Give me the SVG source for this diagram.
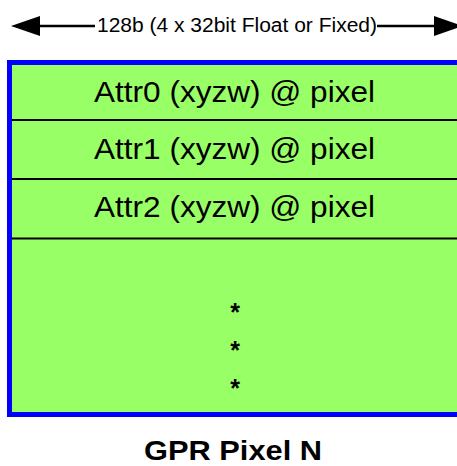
<svg xmlns="http://www.w3.org/2000/svg" width="457" height="466" viewBox="0 0 457 466">
<style>
.t{font-family:"Liberation Sans",Arial,sans-serif;fill:#000}
.attr{font-size:30px}
.star{font-size:25px;font-weight:bold}
.div{stroke:#000;stroke-width:2}
.dim{stroke:#000;stroke-width:2.5}
</style>
<rect width="457" height="466" fill="#fff"/>
<g id="connectors">
<line class="dim" x1="40" y1="26" x2="95" y2="26"/>
<path d="M11,26 L40,16 L40,36 Z" fill="#000"/>
<line class="dim" x1="377" y1="26" x2="434" y2="26"/>
<path d="M463,26 L434,16 L434,36 Z" fill="#000"/>
</g>
<text class="t" x="97" y="32" font-size="20" textLength="280" lengthAdjust="spacingAndGlyphs">128b (4 x 32bit Float or Fixed)</text>
<g id="gpr">
<rect x="9.5" y="62.5" width="452" height="352" fill="#99FF66" stroke="#0000FF" stroke-width="5"/>
<line class="div" x1="12" y1="120" x2="457" y2="120"/>
<line class="div" x1="12" y1="179" x2="457" y2="179"/>
<line class="div" x1="12" y1="238.5" x2="457" y2="238.5"/>
</g>
<g id="attr0"><text class="t attr" x="94" y="101.5" textLength="281" lengthAdjust="spacingAndGlyphs">Attr0 (xyzw) @ pixel</text></g>
<g id="attr1"><text class="t attr" x="94" y="159" textLength="281" lengthAdjust="spacingAndGlyphs">Attr1 (xyzw) @ pixel</text></g>
<g id="attr2"><text class="t attr" x="94" y="217" textLength="281" lengthAdjust="spacingAndGlyphs">Attr2 (xyzw) @ pixel</text></g>
<g id="dots">
<text class="t star" x="235" y="321" text-anchor="middle">*</text>
<text class="t star" x="235" y="359" text-anchor="middle">*</text>
<text class="t star" x="235" y="397" text-anchor="middle">*</text>
</g>
<g id="title"><text class="t" x="144" y="460" font-size="28" font-weight="bold" textLength="178" lengthAdjust="spacingAndGlyphs">GPR Pixel N</text></g>
</svg>
